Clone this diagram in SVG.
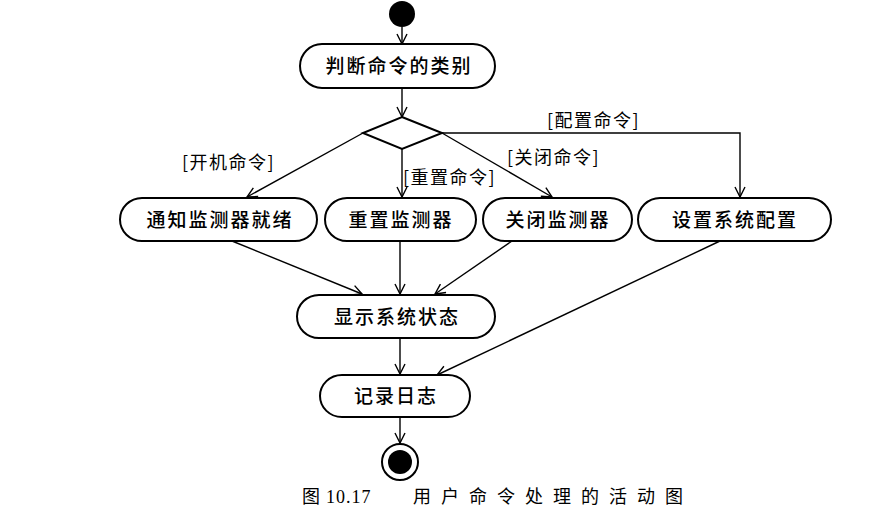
<svg xmlns="http://www.w3.org/2000/svg" width="888" height="512" viewBox="0 0 888 512">
<style>
.node{fill:#fff;stroke:#000;stroke-width:2}
.t{font-family:"Noto Sans CJK SC","Noto Sans",sans-serif;font-size:19px;font-weight:500;text-anchor:middle;fill:#000;letter-spacing:2px}
.lbl{font-family:"Noto Sans CJK SC","Noto Sans",sans-serif;font-size:18px;fill:#000;letter-spacing:1.5px}
.cap{font-family:"Liberation Serif","Noto Sans CJK SC",serif;font-size:18px;fill:#000}
.e{fill:none;stroke:#000;stroke-width:1.4;marker-end:url(#ah)}
</style>
<defs>
<marker id="ah" viewBox="0 0 12 12" refX="11" refY="6" markerWidth="12" markerHeight="12" markerUnits="userSpaceOnUse" orient="auto">
<path d="M1,1 L11,6 L1,11" fill="none" stroke="#000" stroke-width="1.4"/>
</marker>
</defs>
<rect width="888" height="512" fill="#fff"/>
<g id="start"><circle cx="402" cy="14" r="13" fill="#000"/></g>
<g id="judge"><rect class="node" x="300" y="44" width="195" height="44" rx="22" ry="22"/><text class="t" x="399" y="73">判断命令的类别</text></g>
<g id="decision"><polygon class="node" points="402,117 442,133 402,149 363,133"/></g>
<g id="notify"><rect class="node" x="120" y="198" width="197" height="43" rx="22" ry="21.5"/><text class="t" x="220" y="227">通知监测器就绪</text></g>
<g id="reset"><rect class="node" x="325" y="198" width="151" height="43" rx="22" ry="21.5"/><text class="t" x="401" y="227">重置监测器</text></g>
<g id="close"><rect class="node" x="483" y="198" width="149" height="43" rx="22" ry="21.5"/><text class="t" x="558" y="227">关闭监测器</text></g>
<g id="config"><rect class="node" x="638" y="198" width="193" height="43" rx="22" ry="21.5"/><text class="t" x="735" y="227">设置系统配置</text></g>
<g id="display"><rect class="node" x="297" y="295" width="198" height="43" rx="22" ry="21.5"/><text class="t" x="397" y="324">显示系统状态</text></g>
<g id="log"><rect class="node" x="320" y="375" width="150" height="42" rx="22" ry="21"/><text class="t" x="396" y="403">记录日志</text></g>
<g id="end"><circle cx="400" cy="462" r="18" fill="#fff" stroke="#000" stroke-width="2"/><circle cx="400" cy="462" r="12" fill="#000"/></g>
<g id="connectors">
<line class="e" x1="402" y1="27" x2="402" y2="44"/>
<line class="e" x1="402" y1="88" x2="402" y2="117"/>
<line class="e" x1="363" y1="133" x2="247" y2="197"/>
<line class="e" x1="402" y1="149" x2="402" y2="197"/>
<line class="e" x1="442" y1="133" x2="552" y2="197"/>
<polyline class="e" points="442,133 740,133 740,197"/>
<line class="e" x1="232" y1="241" x2="362" y2="294"/>
<line class="e" x1="400" y1="241" x2="400" y2="294"/>
<line class="e" x1="512" y1="241" x2="435" y2="294"/>
<line class="e" x1="720" y1="241" x2="437" y2="375"/>
<line class="e" x1="400" y1="338" x2="400" y2="374"/>
<line class="e" x1="400" y1="417" x2="400" y2="443"/>
</g>
<g id="labels">
<text class="lbl" x="182" y="169">[开机命令]</text>
<text class="lbl" x="403" y="184">[重置命令]</text>
<text class="lbl" x="507" y="164">[关闭命令]</text>
<text class="lbl" x="547" y="127">[配置命令]</text>
</g>
<g id="caption">
<text class="cap" x="302" y="503">图</text>
<text class="cap" x="326" y="503" letter-spacing="1">10.17</text>
<text class="cap" x="413" y="503" letter-spacing="10" font-family="Noto Sans CJK SC, sans-serif" font-size="17">用户命令处理的活动图</text>
</g>
</svg>
